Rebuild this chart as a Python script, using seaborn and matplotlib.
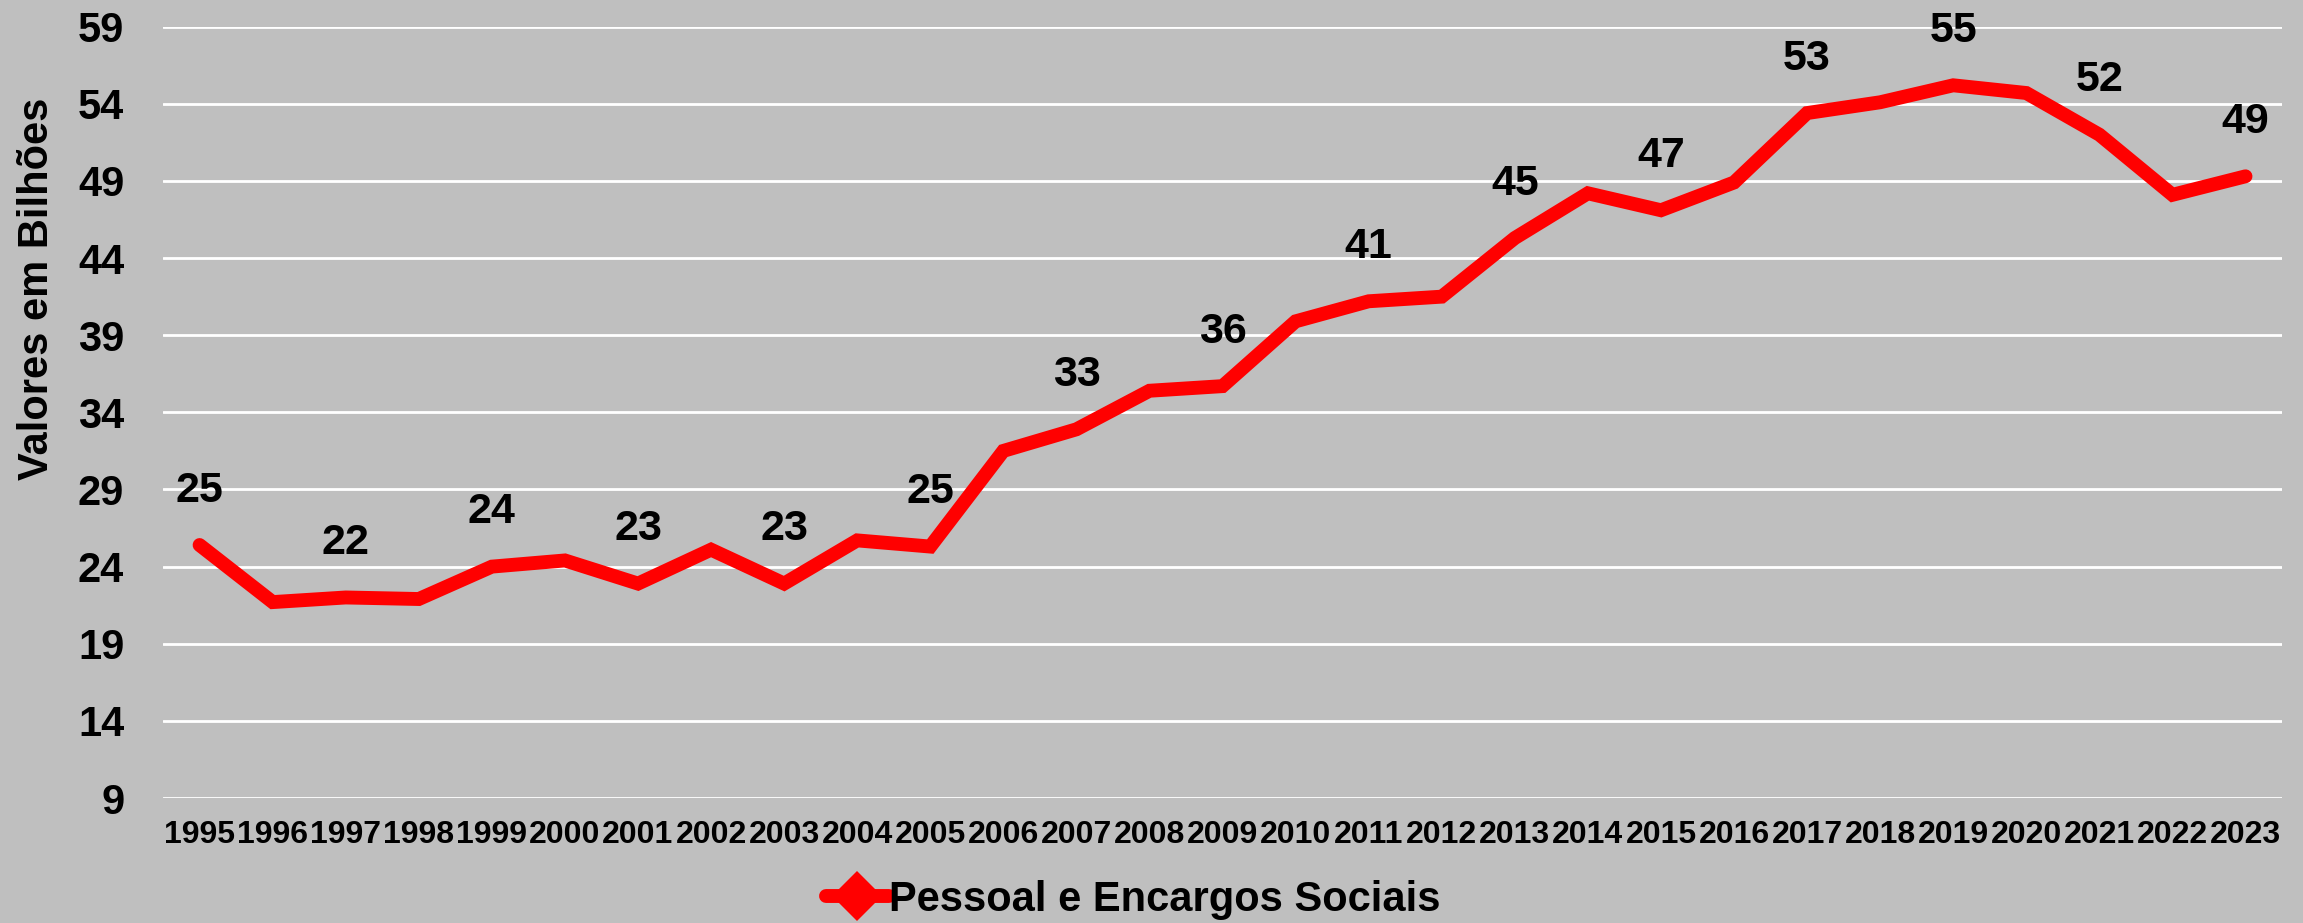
import pandas as pd
import matplotlib
matplotlib.use("Agg")
import matplotlib.pyplot as plt
from matplotlib.lines import Line2D
import seaborn as sns

anos = [str(a) for a in range(1995, 2024)]
valores = [25.4, 21.7, 22.0, 21.9, 24.0, 24.4, 22.9, 25.1, 22.9, 25.7,
           25.3, 31.5, 32.9, 35.4, 35.7, 39.9, 41.2, 41.5, 45.3, 48.2,
           47.1, 48.9, 53.4, 54.1, 55.2, 54.7, 52.0, 48.1, 49.3]
y_ticks = [9, 14, 19, 24, 29, 34, 39, 44, 49, 54, 59]
serie = "Pessoal e Encargos Sociais"

df = pd.DataFrame({"ano": anos, "valor": valores})

cinza = "#BFBFBF"
vermelho = "#FF0000"

sns.set_style("whitegrid")
plt.rcParams["font.family"] = ["Liberation Sans", "DejaVu Sans"]
plt.rcParams["font.weight"] = "bold"
plt.rcParams["text.color"] = "black"
plt.rcParams["axes.labelcolor"] = "black"
plt.rcParams["xtick.color"] = "black"
plt.rcParams["ytick.color"] = "black"

fig = plt.figure(figsize=(23.03, 9.23), dpi=100, facecolor=cinza)
ax = fig.add_axes([0.0708, 0.1354, 0.9201, 0.8357])
ax.set_facecolor(cinza)

sns.lineplot(data=df, x="ano", y="valor", ax=ax, color=vermelho,
             linewidth=10, solid_joinstyle="miter", solid_capstyle="round",
             legend=False)

# rotulos em anos alternados
for i, (a, v) in enumerate(zip(anos, valores)):
    if i % 2 == 0:
        ax.annotate(f"{v:.0f}", (i, v), xytext=(0, 39), textcoords="offset points",
                    ha="center", va="center", fontsize=31, fontweight="bold")

ax.set_xlim(-0.5, len(anos) - 0.5)
ax.set_ylim(9, 59)
ax.set_yticks(y_ticks)
ax.grid(axis="y", color="white", linewidth=2)
ax.grid(axis="x", visible=False)
for s in ax.spines.values():
    s.set_visible(False)

ax.tick_params(axis="y", labelsize=30, pad=28, length=0)
ax.tick_params(axis="x", labelsize=23, pad=16, length=0)
for lbl in ax.get_xticklabels() + ax.get_yticklabels():
    lbl.set_fontweight("bold")

ax.set_xlabel("")
ax.set_ylabel("Valores em Bilhões", fontsize=30, fontweight="bold")
ax.yaxis.label.set_va("center")
ax.yaxis.set_label_coords(-0.0596, 0.66)

handle = Line2D([], [], color=vermelho, linewidth=10, marker="D", markersize=25,
                markeredgewidth=0)
fig.legend([handle], [serie], loc="center", bbox_to_anchor=(0.492, 1 - 900 / 923),
           frameon=False, prop={"weight": "bold", "size": 30},
           handlelength=1.5, handletextpad=0.0, borderpad=0)

fig.savefig("out.png", dpi=100, facecolor=cinza)
